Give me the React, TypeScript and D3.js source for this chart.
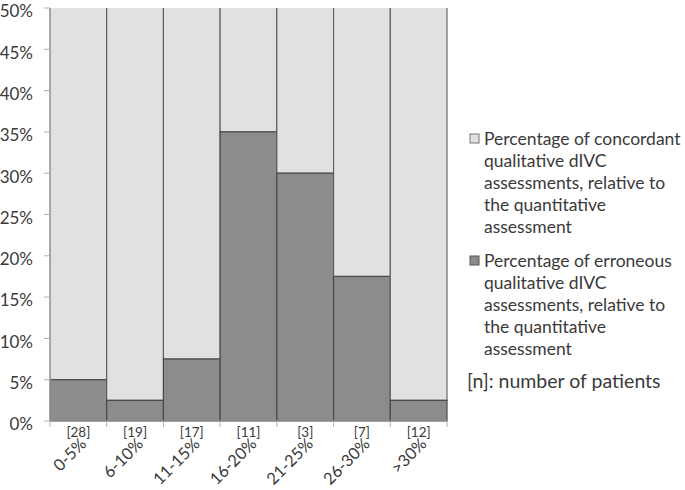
import * as d3 from "d3";

const categories = ["0-5%", "6-10%", "11-15%", "16-20%", "21-25%", "26-30%", ">30%"];
const patients = [28, 19, 17, 11, 3, 7, 12];
const erroneous = [5, 2.5, 7.5, 35, 30, 17.5, 2.5];
const concordant = [95, 97.5, 92.5, 65, 70, 82.5, 97.5];
const yTicks = [0, 5, 10, 15, 20, 25, 30, 35, 40, 45, 50];

const legendConcordant = [
  "Percentage of concordant",
  "qualitative dIVC",
  "assessments, relative to",
  "the quantitative",
  "assessment",
];
const legendErroneous = [
  "Percentage of erroneous",
  "qualitative dIVC",
  "assessments, relative to",
  "the quantitative",
  "assessment",
];

const width = 685;
const height = 490;
const marginLeft = 50;
const marginTop = 8;
const plotRight = 447;
const plotBottom = 421;

const lightFill = "#e1e1e1";
const darkFill = "#8c8c8c";
const stroke = "#4a4a4a";
const textColor = "#3a3a3a";
const font = "Lato, 'Open Sans', sans-serif";

export default function App() {
  const x = d3.scaleBand().domain(categories).range([marginLeft, plotRight]).padding(0);
  const y = d3.scaleLinear().domain([0, 50]).range([plotBottom, marginTop]);

  return (
    <svg
      width={width}
      height={height}
      style={{ position: "absolute", left: 0, top: 0, background: "#fff" }}
      fontFamily={font}
    >
      <defs>
        <clipPath id="plot">
          <rect x={marginLeft - 1} y={marginTop} width={plotRight - marginLeft + 2} height={plotBottom - marginTop + 1} />
        </clipPath>
      </defs>

      {/* bars: erroneous at bottom, concordant stacked above and clipped at 50% */}
      <g clipPath="url(#plot)">
        {categories.map((c, i) => (
          <g key={c}>
            <rect
              x={x(c)!}
              y={y(erroneous[i] + concordant[i])}
              width={x.bandwidth()}
              height={y(erroneous[i]) - y(erroneous[i] + concordant[i])}
              fill={lightFill}
              stroke="#5a5a5a"
              strokeWidth={1.1}
            />
            <rect
              x={x(c)!}
              y={y(erroneous[i])}
              width={x.bandwidth()}
              height={y(0) - y(erroneous[i])}
              fill={darkFill}
              stroke={stroke}
              strokeWidth={1.2}
            />
          </g>
        ))}
      </g>

      {/* y axis */}
      <line x1={marginLeft} x2={marginLeft} y1={marginTop} y2={plotBottom} stroke="#b0b0b0" />
      {yTicks.map((t) => (
        <g key={t} transform={`translate(0,${y(t)})`}>
          <line x1={marginLeft - 6} x2={marginLeft} stroke="#b0b0b0" />
          <text x={33} dy="0.55em" textAnchor="end" fontSize={17} fill={textColor}>
            {t}%
          </text>
        </g>
      ))}

      {/* x axis */}
      <line x1={marginLeft} x2={plotRight} y1={plotBottom} y2={plotBottom} stroke="#b0b0b0" />
      {categories.map((c) => (
        <line key={c} x1={x(c)!} x2={x(c)!} y1={plotBottom} y2={plotBottom + 6} stroke="#b0b0b0" />
      ))}
      <line x1={plotRight} x2={plotRight} y1={plotBottom} y2={plotBottom + 6} stroke="#b0b0b0" />

      {categories.map((c, i) => {
        const cx = x(c)! + x.bandwidth() / 2;
        return (
          <g key={c}>
            <text x={cx} y={plotBottom + 16} textAnchor="middle" fontSize={13.5} fill={textColor}>
              [{patients[i]}]
            </text>
            <text
              transform={`translate(${cx + 9},${plotBottom + 24}) rotate(-45)`}
              textAnchor="end"
              fontSize={16.5}
              fill={textColor}
            >
              {c}
            </text>
          </g>
        );
      })}

      {/* legend */}
      <g fill={textColor}>
        <rect x={470} y={134} width={9} height={9} fill={lightFill} stroke="#777" />
        {legendConcordant.map((s, i) => (
          <text key={"c" + i} x={484} y={145 + i * 22} fontSize={17.5} fill={textColor}>
            {s}
          </text>
        ))}
        <rect x={470} y={256} width={9} height={9} fill={darkFill} stroke="#555" />
        {legendErroneous.map((s, i) => (
          <text key={"e" + i} x={484} y={267 + i * 22} fontSize={17.5} fill={textColor}>
            {s}
          </text>
        ))}
        <text x={467} y={388} fontSize={19.5} fill={textColor}>
          [n]: number of patients
        </text>
      </g>
    </svg>
  );
}
